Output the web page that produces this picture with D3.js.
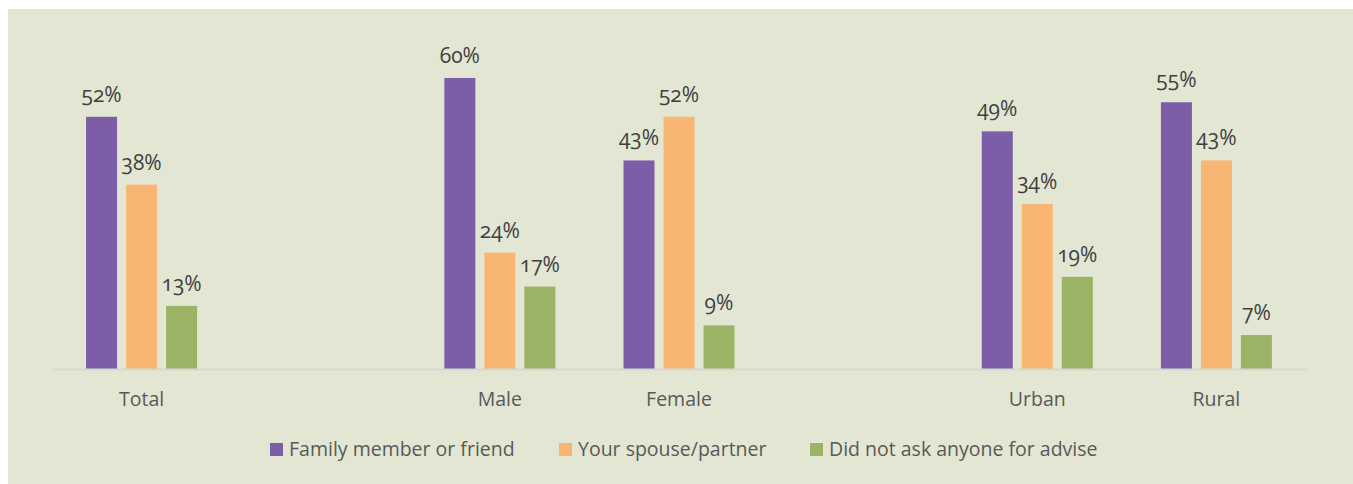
<!DOCTYPE html>
<html lang="en">
  <head>
    <meta charset="UTF-8" />
    <title>Who did you ask for advice</title>
    <script src="https://d3js.org/d3.v7.min.js"></script>
    <style>
      body {
        margin: 0;
        background: #ffffff;
        font-family: "Open Sans", sans-serif;
      }
      #chart {
        display: block;
      }
      .value-label {
        fill: #404040;
        font-size: 21px;
        font-variant-numeric: oldstyle-nums;
      }
      .axis text {
        fill: #595959;
        font-size: 19.5px;
        font-family: "Open Sans", sans-serif;
      }
      .legend text {
        fill: #595959;
        font-size: 19.5px;
      }
    </style>
  </head>
  <body>
    <svg id="chart" width="1353" height="484"></svg>

    <script>
      // slots "" are the empty gaps between groups
      const categories = ["Total", "", "Male", "Female", " ", "Urban", "Rural"];
      const seriesNames = [
        "Family member or friend",
        "Your spouse/partner",
        "Did not ask anyone for advise",
      ];
      const familyFriend = [52, null, 60, 43, null, 49, 55];
      const spousePartner = [38, null, 24, 52, null, 34, 43];
      const didNotAsk = [13, null, 17, 9, null, 19, 7];
      const colors = ["#7b5ea7", "#f9b672", "#9bb365"];

      const series = [familyFriend, spousePartner, didNotAsk];

      const svg = d3.select("#chart");

      // panel background
      svg
        .append("rect")
        .attr("x", 8)
        .attr("y", 9)
        .attr("width", 1353 - 8)
        .attr("height", 484 - 9)
        .attr("fill", "#e2e6d3");

      const x0 = d3.scaleBand().domain(categories).range([52, 1306]);
      const x1 = d3
        .scaleBand()
        .domain(d3.range(series.length))
        .range([0, 111])
        .paddingInner(0.225);
      const y = d3.scaleLinear().domain([0, 60]).range([369, 78]);

      const groups = svg
        .selectAll("g.group")
        .data(categories)
        .join("g")
        .attr("class", "group")
        .attr(
          "transform",
          (d) => `translate(${x0(d) + (x0.bandwidth() - 111) / 2},0)`
        );

      groups.each(function (cat, ci) {
        const g = d3.select(this);
        const vals = series
          .map((s, si) => ({ si, v: s[ci] }))
          .filter((d) => d.v != null);

        g.selectAll("rect")
          .data(vals)
          .join("rect")
          .attr("x", (d) => x1(d.si))
          .attr("y", (d) => y(d.v))
          .attr("width", x1.bandwidth())
          .attr("height", (d) => y(0) - y(d.v))
          .attr("fill", (d) => colors[d.si]);

        g.selectAll("text")
          .data(vals)
          .join("text")
          .attr("class", "value-label")
          .attr("x", (d) => x1(d.si) + x1.bandwidth() / 2)
          .attr("y", (d) => y(d.v) - 15)
          .attr("text-anchor", "middle")
          .text((d) => d.v + "%");
      });

      // Axis
      const axis = svg
        .append("g")
        .attr("class", "axis")
        .attr("transform", `translate(0,${y(0)})`)
        .call(d3.axisBottom(x0).tickSize(0).tickPadding(23));
      axis
        .select(".domain")
        .attr("stroke", "#d6d8d0")
        .attr("stroke-width", 2);

      // Legend
      const legendX = [270, 559, 810];
      const legend = svg
        .append("g")
        .attr("class", "legend")
        .selectAll("g")
        .data(seriesNames)
        .join("g")
        .attr("transform", (d, i) => `translate(${legendX[i]},443)`);
      legend
        .append("rect")
        .attr("width", 13)
        .attr("height", 13)
        .attr("fill", (d, i) => colors[i]);
      legend
        .append("text")
        .attr("x", 19)
        .attr("y", 13)
        .text((d) => d);
    </script>
  </body>
</html>
